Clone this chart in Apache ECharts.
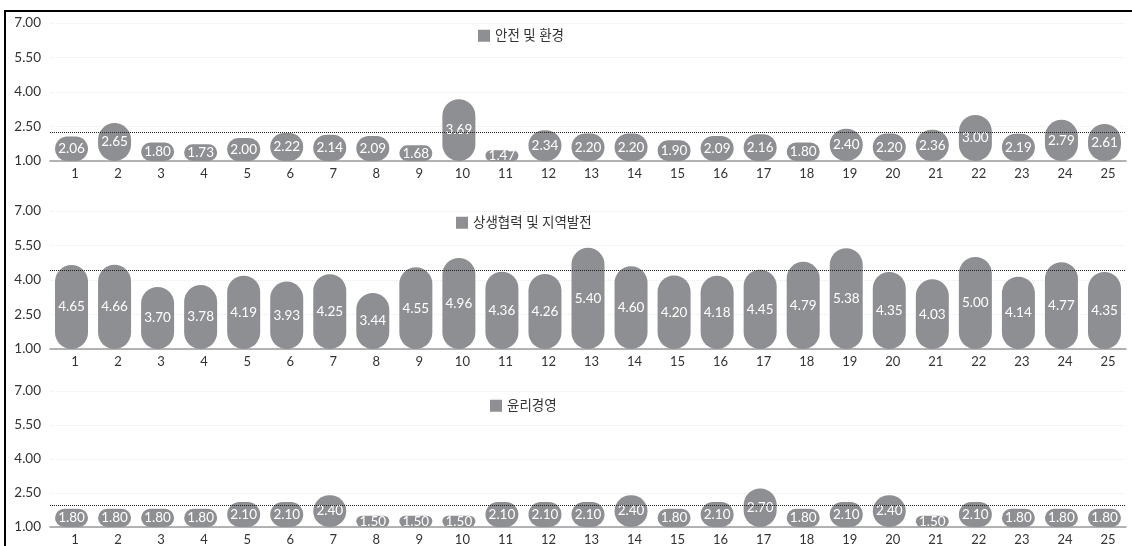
<!DOCTYPE html>
<html>
<head>
<meta charset="utf-8">
<style>
html,body{margin:0;padding:0;background:#fff;}
#chart{width:1132px;height:546px;}
</style>
<script src="https://cdn.jsdelivr.net/npm/echarts@6/dist/echarts.min.js"></script>
</head>
<body>
<div id="chart"></div>
<script>
var categories = ['1','2','3','4','5','6','7','8','9','10','11','12','13','14','15','16','17','18','19','20','21','22','23','24','25'];
var seriesNames = ['안전 및 환경', '상생협력 및 지역발전', '윤리경영'];
var safetyValues = [2.06,2.65,1.80,1.73,2.00,2.22,2.14,2.09,1.68,3.69,1.47,2.34,2.20,2.20,1.90,2.09,2.16,1.80,2.40,2.20,2.36,3.00,2.19,2.79,2.61];
var cooperationValues = [4.65,4.66,3.70,3.78,4.19,3.93,4.25,3.44,4.55,4.96,4.36,4.26,5.40,4.60,4.20,4.18,4.45,4.79,5.38,4.35,4.03,5.00,4.14,4.77,4.35];
var ethicsValues = [1.80,1.80,1.80,1.80,2.10,2.10,2.40,1.50,1.50,1.50,2.10,2.10,2.10,2.40,1.80,2.10,2.70,1.80,2.10,2.40,1.50,2.10,1.80,1.80,1.80];
var yTicks = [1.00, 2.50, 4.00, 5.50, 7.00];

var allValues = [safetyValues, cooperationValues, ethicsValues];
var gridTops = [23, 211, 391];
var legendPos = [[478, 29], [456, 216], [490, 399]];
var FONT = 'Lato, "Noto Sans", "Noto Sans CJK KR", sans-serif';
var BAR = '#8e8f92';

var grids = [], xAxes = [], yAxes = [], series = [], legends = [];
for (var i = 0; i < 3; i++) {
  grids.push({left: 50, right: 6, top: gridTops[i], height: 138});
  xAxes.push({
    type: 'category', gridIndex: i, data: categories,
    axisTick: {show: false},
    axisLine: {lineStyle: {color: '#9a9a9a', width: 1.5}},
    axisLabel: {color: '#333', fontSize: 13, fontFamily: FONT, margin: 6, padding: [0, 0, 0, 7]}
  });
  yAxes.push({
    type: 'value', gridIndex: i, min: yTicks[0], max: yTicks[yTicks.length - 1], interval: 1.5,
    axisLine: {show: false}, axisTick: {show: false},
    splitLine: {lineStyle: {color: '#ececec', type: 'dotted', width: 1}},
    axisLabel: {color: '#333', fontSize: 13.5, fontFamily: FONT, margin: 9,
      formatter: function (v) { return v.toFixed(2); }}
  });
  legends.push({
    data: [seriesNames[i]], left: legendPos[i][0], top: legendPos[i][1], padding: 0,
    itemWidth: 12, itemHeight: 12, itemGap: 8, icon: 'rect',
    textStyle: {color: '#333', fontSize: 13.5, fontFamily: FONT}
  });
  series.push({
    name: seriesNames[i], type: 'bar', xAxisIndex: i, yAxisIndex: i,
    data: allValues[i], barWidth: 33,
    itemStyle: {color: BAR, borderRadius: 16.5},
    label: {show: true, position: 'inside', color: '#fff', fontSize: 13.5, fontFamily: FONT,
      formatter: function (p) { return p.value.toFixed(2); }},
    markLine: {
      silent: true, symbol: 'none',
      label: {show: false},
      lineStyle: {color: '#222', type: 'dotted', width: 1},
      data: [{type: 'average'}]
    }
  });
}

var chart = echarts.init(document.getElementById('chart'));
chart.setOption({
  animation: false,
  backgroundColor: '#fff',
  grid: grids, xAxis: xAxes, yAxis: yAxes, legend: legends, series: series,
  graphic: [
    {type: 'line', shape: {x1: 4, y1: 11, x2: 1132, y2: 11}, style: {stroke: '#000', lineWidth: 2}},
    {type: 'line', shape: {x1: 5, y1: 10, x2: 5, y2: 546}, style: {stroke: '#000', lineWidth: 2}}
  ]
});
</script>
</body>
</html>
